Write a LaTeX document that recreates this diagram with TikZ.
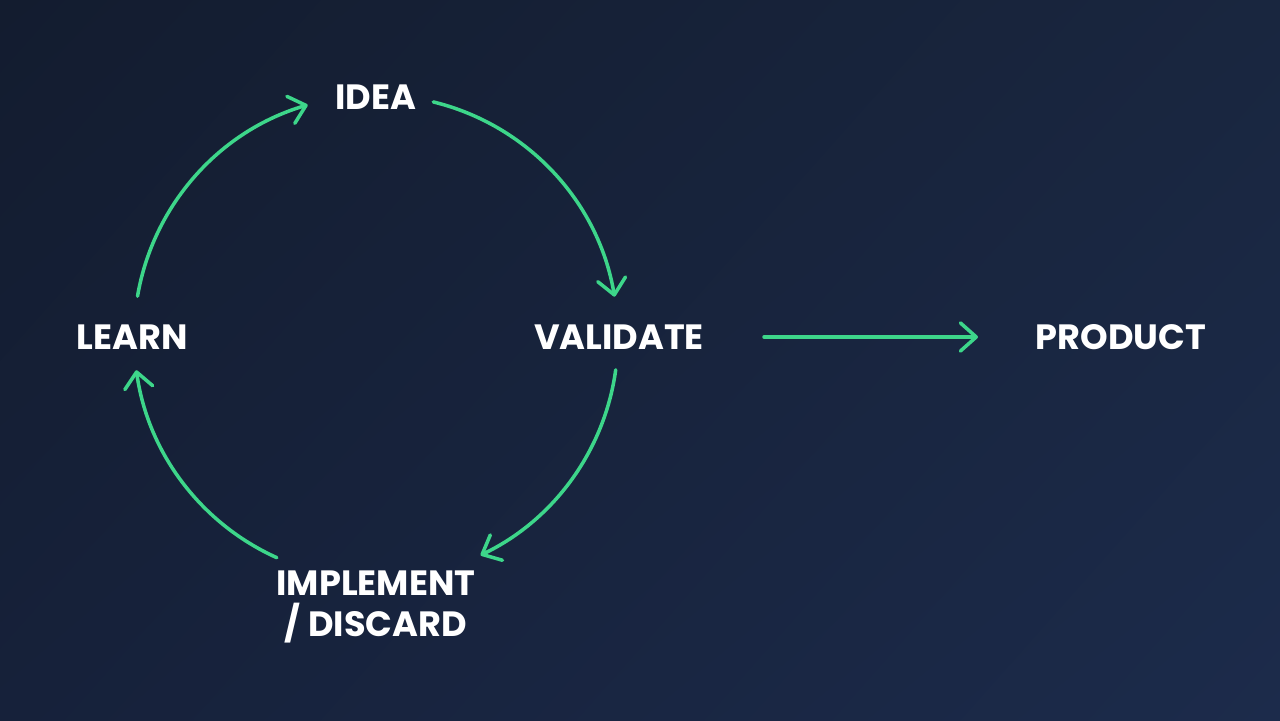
\documentclass[tikz,border=0pt]{standalone}
\usepackage{fontspec}
\setmainfont{Poppins}
\usetikzlibrary{arrows.meta,calc,shadings}
\definecolor{bgtl}{HTML}{131C2F}
\definecolor{bgtr}{HTML}{19263F}
\definecolor{bgbl}{HTML}{16213A}
\definecolor{bgbr}{HTML}{1C2B4B}
\definecolor{loopgreen}{HTML}{3DD68A}
\tikzset{
  lbl/.style={text=white, font=\fontsize{20}{23}\selectfont\bfseries, align=center, inner sep=0pt},
  flow/.style={draw=loopgreen, line width=2pt, line cap=round,
    -{Straight Barb[length=9pt,width=16pt,line cap=round,line join=round]}}
}
\begin{document}
\begin{tikzpicture}[x=0.02cm,y=0.02cm]
\shade[upper left=bgtl, upper right=bgtr, lower left=bgbl, lower right=bgbr] (0,0) rectangle (1280,720);
\useasboundingbox (0,0) rectangle (1280,720);
\coordinate (c) at (376,383);
\node[lbl] (idea) at (376,623) {IDEA};
\node[lbl] (learn) at (132,383) {LEARN};
\node[lbl] (validate) at (619,383) {VALIDATE};
\node[lbl] (impl) at (376,113) {IMPLEMENT\\/ DISCARD};
\node[lbl] (product) at (1121,383) {PRODUCT};
\coordinate (a1s) at ($(c)+(76.3:4.84cm)$);
\coordinate (a2s) at ($(c)+(-7.8:4.84cm)$);
\coordinate (a3s) at ($(c)+(245.8:4.84cm)$);
\coordinate (a4s) at ($(c)+(170.3:4.84cm)$);
\coordinate (ps) at (764,383);
\coordinate (pe) at (978,383);
\draw[flow] (a1s) arc[start angle=76.3, end angle=9.6, radius=4.84cm];
\draw[flow] (a2s) arc[start angle=-7.8, end angle=-64.4, radius=4.84cm];
\draw[flow] (a3s) arc[start angle=245.8, end angle=187.9, radius=4.84cm];
\draw[flow] (a4s) arc[start angle=170.3, end angle=106.4, radius=4.84cm];
\draw[flow] (ps) -- (pe);
\end{tikzpicture}
\end{document}
